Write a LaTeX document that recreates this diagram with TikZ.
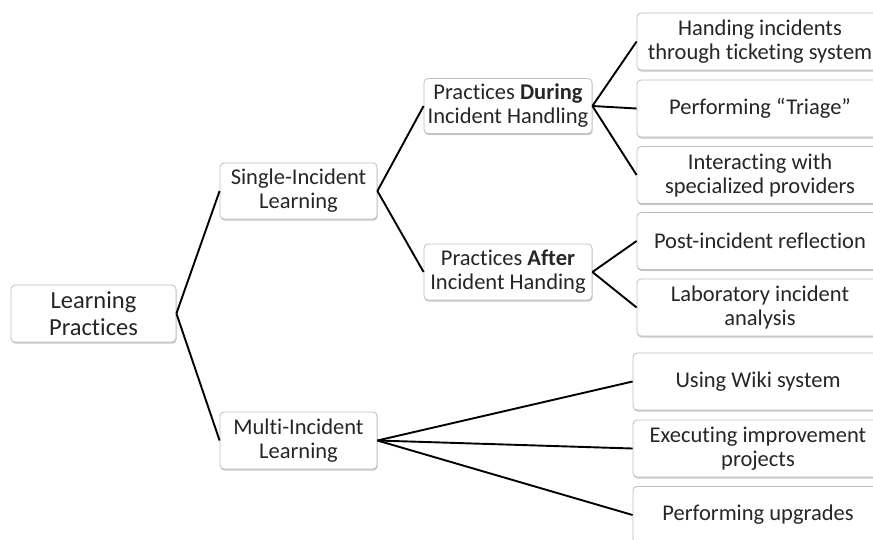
\documentclass[tikz,border=0pt]{standalone}
\usepackage{fontspec}
\setmainfont{Carlito}[Ligatures=NoCommon]
\usetikzlibrary{shadows}

\tikzset{
  box/.style={draw=black!25, line width=0.8pt, fill=white, rounded corners=4pt,
    align=center, inner sep=0pt, text=black!85,
    drop shadow={shadow xshift=0.6pt, shadow yshift=-1.6pt, opacity=0.35, fill=black!60},
    font=\fontsize{22.5}{24}\selectfont},
  leaf/.style={box, minimum height=57pt},
  link/.style={line width=1.9pt, black}
}

\begin{document}
\begin{tikzpicture}[x=1pt, y=-1pt]
  \useasboundingbox (0,0) rectangle (873,539);
  \clip (0,0) rectangle (873,539);

  % root and first level
  \node[box, minimum width=165pt, minimum height=57pt,
        font=\fontsize{24.5}{27}\selectfont] (lp) at (93.5,313.5) {Learning\\Practices};
  \node[box, minimum width=157pt, minimum height=56pt] (single) at (298.5,191) {Single-Incident\\Learning};
  \node[box, minimum width=157pt, minimum height=57pt] (multi) at (298.5,440.5) {Multi-Incident\\Learning};

  % second level
  \node[box, minimum width=168pt, minimum height=55pt] (during) at (508,106) {Practices \textbf{During}\\Incident Handling};
  \node[box, minimum width=168pt, minimum height=56pt] (after) at (508,272) {Practices \textbf{After}\\Incident Handing};

  % practices during incident handling
  \node[leaf, minimum width=246pt] (r1) at (760,41.5) {Handing incidents\\through ticketing system};
  \node[leaf, minimum width=246pt] (r2) at (760,108.5) {Performing “Triage”};
  \node[leaf, minimum width=246pt] (r3) at (760,175) {Interacting with\\specialized providers};

  % practices after incident handling
  \node[leaf, minimum width=246pt] (r4) at (760,241) {Post-incident reflection};
  \node[leaf, minimum width=246pt] (r5) at (760,307.5) {Laboratory incident\\analysis};

  % multi-incident learning
  \node[leaf, minimum width=250pt] (r6) at (758,381.5) {Using Wiki system};
  \node[leaf, minimum width=250pt] (r7) at (758,448.5) {Executing improvement\\projects};
  \node[leaf, minimum width=250pt] (r8) at (758,515) {Performing upgrades};

  % connectors
  \draw[link] (lp.east) -- (single.west);
  \draw[link] (lp.east) -- (multi.west);
  \draw[link] (single.east) -- (during.west);
  \draw[link] (single.east) -- (after.west);
  \draw[link] (during.east) -- (r1.west);
  \draw[link] (during.east) -- (r2.west);
  \draw[link] (during.east) -- (r3.west);
  \draw[link] (after.east) -- (r4.west);
  \draw[link] (after.east) -- (r5.west);
  \draw[link] (multi.east) -- (r6.west);
  \draw[link] (multi.east) -- (r7.west);
  \draw[link] (multi.east) -- (r8.west);
\end{tikzpicture}
\end{document}
